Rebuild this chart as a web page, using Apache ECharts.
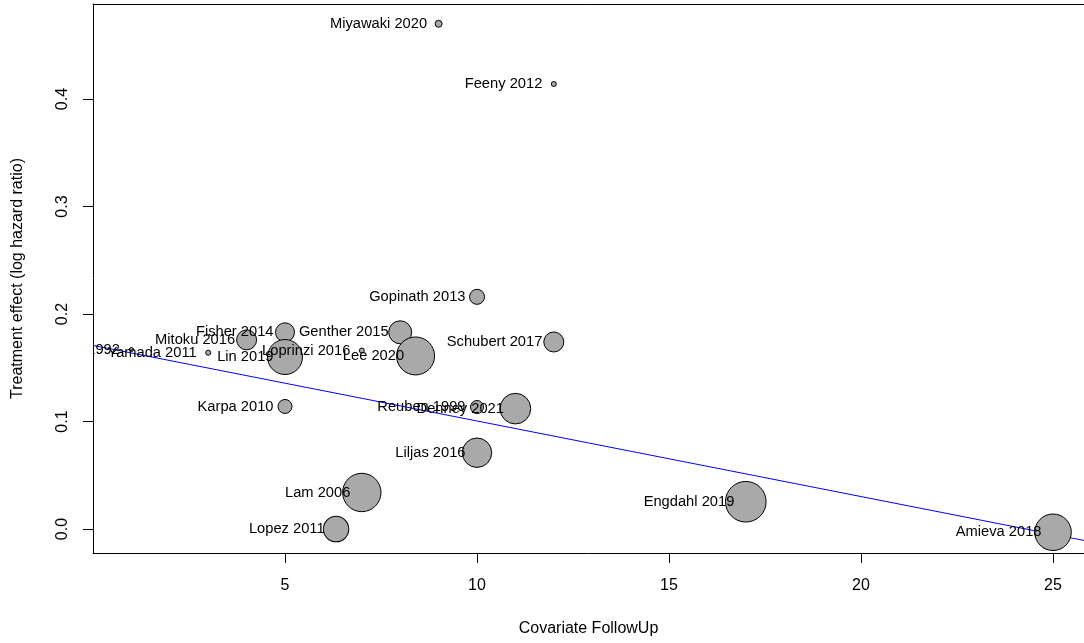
<!DOCTYPE html>
<html>
<head>
<meta charset="utf-8">
<script src="https://cdn.jsdelivr.net/npm/echarts@6/dist/echarts.min.js"></script>
<style>
html,body{margin:0;padding:0;background:#fff;}
#chart{width:1084px;height:643px;}
</style>
</head>
<body>
<div id="chart"></div>
<script>
// ---- data ----
const studies = ["Miyawaki 2020","Feeny 2012","Gopinath 2013","Fisher 2014","Genther 2015","Mitoku 2016","Schubert 2017","Loprinzi 2016","Yamada 2011","Tinetti 1992","Lin 2019","Lee 2020","Karpa 2010","Reuben 1999","Denney 2021","Liljas 2016","Lam 2006","Lopez 2011","Engdahl 2019","Amieva 2018"];
const followUp = [9, 12, 10, 5, 8, 4, 12, 7, 3, 1.0, 5, 8.4, 5, 10, 11, 10, 7, 6.33, 17, 25];
const effect = [0.470, 0.414, 0.216, 0.183, 0.183, 0.176, 0.174, 0.166, 0.164, 0.167, 0.160, 0.161, 0.114, 0.1135, 0.112, 0.071, 0.034, 0.000, 0.0254, -0.003];
const weights = [0.60, 0.31, 2.78, 4.46, 6.53, 4.94, 4.94, 0.31, 0.31, 0.2, 15.1, 17.8, 2.42, 2.09, 11.6, 10.7, 18.2, 8.0, 20.4, 16.5];
const regIntercept = 0.1708;
const regSlope = -0.00703;
const xTicks = [5, 10, 15, 20, 25];
const yTicks = [0, 0.1, 0.2, 0.3, 0.4];

// ---- layout ----
const X_MIN = 0, X_MAX = 25.807;
const Y_MIN = -0.0223, Y_MAX = 0.4884;
const FONT = '"Liberation Sans", Arial, Helvetica, sans-serif';

const pts = followUp.map((x, i) => [x, effect[i], weights[i]]);
const lineData = [X_MIN, X_MAX].map(x => [x, regIntercept + regSlope * x]);

const chart = echarts.init(document.getElementById('chart'), null, {renderer: 'canvas'});
chart.setOption({
  animation: false,
  backgroundColor: '#ffffff',
  grid: {left: 93, right: 0, top: 4, bottom: 90, containLabel: false},
  xAxis: [{
    type: 'value', min: X_MIN, max: X_MAX, position: 'bottom',
    name: 'Covariate FollowUp', nameLocation: 'middle', nameGap: 68,
    nameTextStyle: {fontFamily: FONT, fontSize: 16, color: '#000'},
    axisLine: {show: true, onZero: false, lineStyle: {color: '#000', width: 1}},
    axisTick: {show: true, inside: false, length: 10, customValues: xTicks, lineStyle: {color: '#000'}},
    axisLabel: {show: true, margin: 25, customValues: xTicks, fontFamily: FONT, fontSize: 16, color: '#000'},
    splitLine: {show: false}
  }, {
    type: 'value', min: X_MIN, max: X_MAX, position: 'top',
    axisLine: {show: true, onZero: false, lineStyle: {color: '#000', width: 1}},
    axisTick: {show: false}, axisLabel: {show: false}, splitLine: {show: false}
  }],
  yAxis: {
    type: 'value', min: Y_MIN, max: Y_MAX,
    name: 'Treatment effect (log hazard ratio)', nameLocation: 'middle', nameGap: 67,
    nameTextStyle: {fontFamily: FONT, fontSize: 16, color: '#000'},
    axisLine: {show: true, onZero: false, lineStyle: {color: '#000', width: 1}},
    axisTick: {show: true, inside: false, length: 10, customValues: yTicks, lineStyle: {color: '#000'}},
    axisLabel: {show: true, rotate: 90, margin: 22, customValues: yTicks,
      formatter: v => v.toFixed(1), fontFamily: FONT, fontSize: 16, color: '#000'},
    splitLine: {show: false}
  },
  series: [{
    type: 'line', data: lineData, symbol: 'none', z: 1, clip: true,
    lineStyle: {color: '#0000FF', width: 1}
  }, {
    type: 'scatter', data: pts, z: 2, clip: true,
    symbol: 'circle',
    symbolSize: d => 2 * 4.5 * Math.sqrt(d[2]),
    itemStyle: {color: '#A9A9A9', borderColor: '#000', borderWidth: 1, opacity: 1}
  }, {
    type: 'custom', z: 3, clip: true,
    data: pts,
    renderItem: (params, api) => {
      const p = api.coord([api.value(0), api.value(1)]);
      return {
        type: 'text', x: p[0] - 11.5, y: p[1],
        style: {text: studies[params.dataIndex], align: 'right', verticalAlign: 'middle',
          fontFamily: FONT, fontSize: 14.7, fill: '#000'}
      };
    }
  }]
});
</script>
</body>
</html>
